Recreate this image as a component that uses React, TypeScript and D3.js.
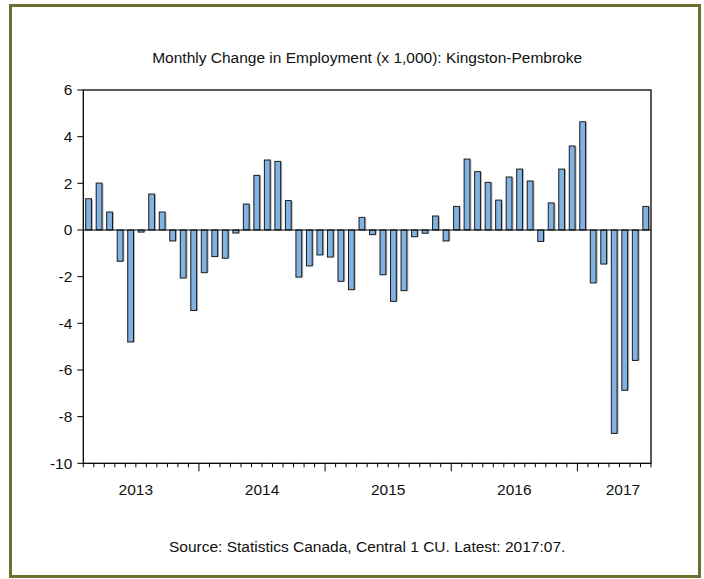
import React from "react";
import * as d3 from "d3";

const years = [2013, 2014, 2015, 2016, 2017];
const months = ["Feb 2013","Mar 2013","Apr 2013","May 2013","Jun 2013","Jul 2013","Aug 2013","Sep 2013","Oct 2013","Nov 2013","Dec 2013",
  "Jan 2014","Feb 2014","Mar 2014","Apr 2014","May 2014","Jun 2014","Jul 2014","Aug 2014","Sep 2014","Oct 2014","Nov 2014","Dec 2014",
  "Jan 2015","Feb 2015","Mar 2015","Apr 2015","May 2015","Jun 2015","Jul 2015","Aug 2015","Sep 2015","Oct 2015","Nov 2015","Dec 2015",
  "Jan 2016","Feb 2016","Mar 2016","Apr 2016","May 2016","Jun 2016","Jul 2016","Aug 2016","Sep 2016","Oct 2016","Nov 2016","Dec 2016",
  "Jan 2017","Feb 2017","Mar 2017","Apr 2017","May 2017","Jun 2017","Jul 2017"];
const values = [1.34, 2.01, 0.77, -1.34, -4.8, -0.09, 1.54, 0.77, -0.47, -2.06, -3.45,
  -1.83, -1.14, -1.21, -0.13, 1.11, 2.34, 3.0, 2.94, 1.26, -2.02, -1.54, -1.07,
  -1.16, -2.2, -2.56, 0.54, -0.2, -1.92, -3.06, -2.6, -0.29, -0.14, 0.6, -0.47,
  1.01, 3.04, 2.5, 2.04, 1.28, 2.27, 2.61, 2.1, -0.49, 1.16, 2.61, 3.6,
  4.64, -2.27, -1.46, -8.72, -6.87, -5.59, 1.01];
const yTicks = [6, 4, 2, 0, -2, -4, -6, -8, -10];
const title = "Monthly Change in Employment (x 1,000): Kingston-Pembroke";
const source = "Source: Statistics Canada, Central 1 CU. Latest: 2017:07.";

const W = 704, H = 579;
const left = 83.3, right = 651, top = 90, bottom = 463.3;
const font = "'Liberation Sans', Arial, sans-serif";
const fs = 15.5;

export default function App() {
  const x = d3.scaleBand<string>().domain(months).range([left, right]).paddingInner(0.45).paddingOuter(0.225);
  const xs = d3.scaleLinear().domain([0, months.length]).range([left, right]);
  const y = d3.scaleLinear().domain([-10, 6]).range([bottom, top]);
  const bw = x.bandwidth();

  return (
    <svg width={W} height={H} style={{ position: "absolute", left: 0, top: 0, background: "#fff" }} fontFamily={font}>
      <rect x={10.5} y={5.5} width={689} height={571} fill="#fff" stroke="#6f6f2f" strokeWidth={3} />
      <text x={(left + right) / 2} y={58} dy="0.35em" textAnchor="middle" fontSize={fs} fill="#111">{title}</text>
      {values.map((v, i) => {
        const bx = x(months[i])!;
        const y0 = y(Math.max(0, v));
        const h = Math.abs(y(v) - y(0));
        return (
          <g key={i}>
            <rect x={bx + 1.5} y={y0 + (v > 0 ? 0.5 : 0)} width={bw} height={h} fill="#a0a0a0" opacity={0.8} />
            <rect x={bx} y={y0} width={bw} height={h} fill="#80b3e2" stroke="#1a1a1a" strokeWidth={1} />
          </g>
        );
      })}
      <line x1={left} x2={right} y1={y(0)} y2={y(0)} stroke="#000" strokeWidth={1.2} />
      <rect x={left} y={top} width={right - left} height={bottom - top} fill="none" stroke="#000" strokeWidth={1.3} />
      {yTicks.map((t) => (
        <g key={t}>
          <line x1={left - 6} x2={left} y1={y(t)} y2={y(t)} stroke="#000" strokeWidth={1} />
          <text x={left - 11} y={y(t)} dy="0.35em" textAnchor="end" fontSize={fs} fill="#111">{t}</text>
        </g>
      ))}
      {d3.range(0, months.length + 1).map((k) => {
        const major = months[k] && months[k].startsWith("Jan");
        return (
          <line key={k} x1={xs(k)} x2={xs(k)} y1={bottom} y2={bottom + (major ? 8 : 4)} stroke="#000" strokeWidth={1} />
        );
      })}
      {years.map((yr) => {
        const idx = months.indexOf(`Jul ${yr}`);
        const px = Math.min(xs(idx), right - 28);
        return (
          <text key={yr} x={px} y={490} dy="0.35em" textAnchor="middle" fontSize={fs} fill="#111">{yr}</text>
        );
      })}
      <text x={(left + right) / 2} y={547} dy="0.35em" textAnchor="middle" fontSize={fs} fill="#111">{source}</text>
    </svg>
  );
}
